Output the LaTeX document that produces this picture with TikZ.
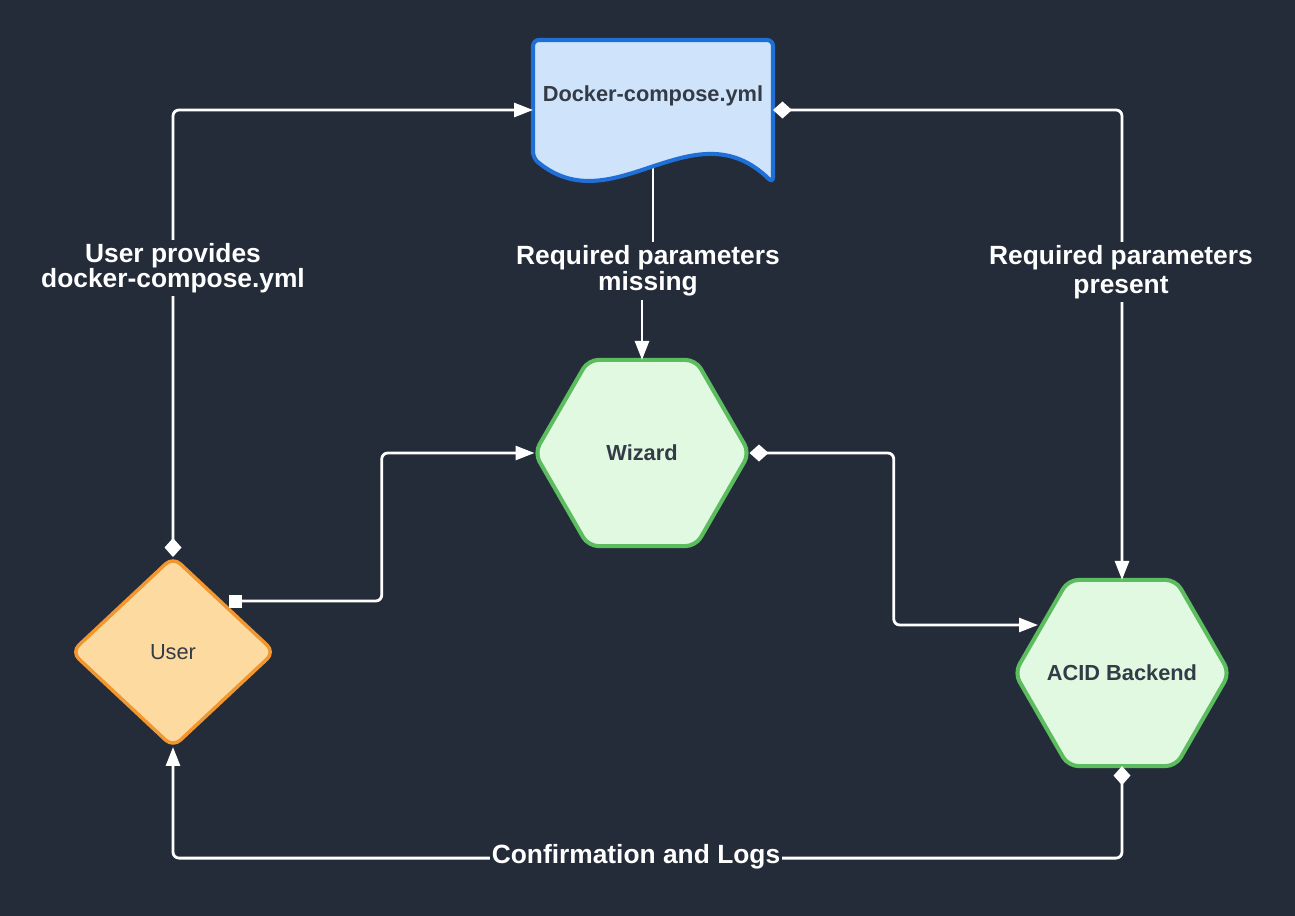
\documentclass[tikz,border=0pt]{standalone}
\usepackage{fontspec}
\setmainfont{Liberation Sans}
\usetikzlibrary{shapes.geometric,arrows.meta,calc}

\definecolor{bgnavy}{HTML}{242C3A}
\definecolor{hexline}{HTML}{5BBD5E}
\definecolor{hexfill}{HTML}{E1F8E1}
\definecolor{docline}{HTML}{1F6FD6}
\definecolor{docfill}{HTML}{CFE3FA}
\definecolor{userline}{HTML}{F2962F}
\definecolor{userfill}{HTML}{FDDBA0}
\definecolor{nodetext}{HTML}{333B47}

\begin{document}
\begin{tikzpicture}
      [x=0.02cm,y=-0.02cm,
       >={Triangle[length=0.38cm,width=0.28cm]},
       hexnode/.style={regular polygon,regular polygon sides=6,minimum size=4.3cm,
         inner sep=0pt,outer sep=0pt,draw=hexline,fill=hexfill,line width=2.3pt,
         rounded corners=0.2cm,text=nodetext,font=\bfseries\fontsize{12.4}{14}\selectfont},
       usernode/.style={diamond,minimum width=4.06cm,minimum height=3.8cm,inner sep=0pt,
         outer sep=0pt,draw=userline,fill=userfill,line width=2pt,rounded corners=0.2cm,
         text=nodetext,font=\fontsize{12.4}{14}\selectfont},
       docnode/.style={minimum width=4.8cm,minimum height=2.8cm,inner sep=0pt,outer sep=0pt},
       conn/.style={draw=white,line width=1.6pt,rounded corners=0.12cm},
       dlink/.style={conn,{Diamond[length=0.38cm,width=0.34cm]}->},
       slink/.style={conn,{Square[length=0.26cm]}->},
       lbl/.style={fill=bgnavy,text=white,align=center,inner sep=2pt,
         font=\bfseries\fontsize{15}{14.2}\selectfont}]
      \fill[bgnavy] (0,0) rectangle (1295,916);

      % document
      \coordinate (doc-bot) at (653,166);
      \coordinate (usr-out) at (229,601);
      \coordinate (acid-in) at (1038,625);
      \draw[conn] (doc-bot) -- (653,250);
      \draw[docline,fill=docfill,line width=2.3pt,rounded corners=0.12cm]
        (533,158) -- (533,40) -- (773,40) -- (773,183)
        .. controls (693,105) and (613,225) .. (533,158) -- cycle;
      \node[docnode] (doc) at (653,110) {};
      \node[text=nodetext,font=\bfseries\fontsize{12.4}{14}\selectfont] (doctext) at (653,96) {Docker-compose.yml};

      \node[hexnode] (wizard) at (642,453) {\makebox[0pt]{Wizard}};
      \node[hexnode] (acid) at (1122,673) {\makebox[0pt]{ACID Backend}};
      \node[usernode] (user) at (173,652) {\makebox[0pt]{User}};

      % connectors
      \draw[dlink] (user.north) |- (doc.west);
      \draw[dlink] (doc.east) -| (acid.north);
      \draw[slink] (usr-out) -| ($(usr-out)!.5!(wizard.west)$) |- (wizard.west);
      \draw[dlink] (wizard.east) -| ($(wizard.east)!.5!(acid-in)$) |- (acid-in);
      \draw[dlink] (acid.south) -- ++(0,92) -| (user.south);

      % labels
      \node[lbl] (lbluser) at (173,268) {User provides\\docker-compose.yml};
      \node[lbl,font=\bfseries\fontsize{15}{12.5}\selectfont] (lblmiss) at (648,271) {Required parameters\\missing};
      \node[lbl,font=\bfseries\fontsize{15}{16.4}\selectfont] (lblpres) at (1121,272) {Required parameters\\present};
      \node[lbl,inner sep=1pt] (lblconf) at (636,857) {Confirmation and Logs};
      \draw[conn,->] (lblmiss.south -| wizard.north) -- (wizard.north);
\end{tikzpicture}
\end{document}
